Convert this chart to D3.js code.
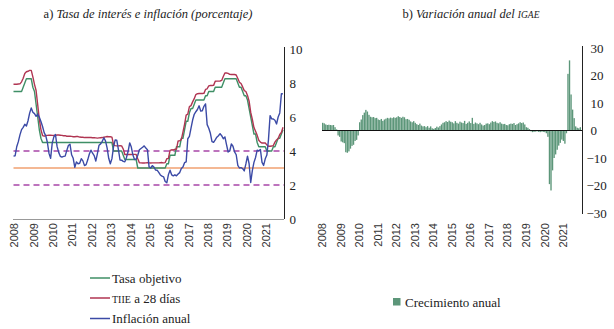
<!DOCTYPE html>
<html>
<head>
<meta charset="utf-8">
<script src="https://cdn.jsdelivr.net/npm/d3@7"></script>
<style>
  html, body { margin: 0; padding: 0; background: #fff; }
  svg { display: block; }
</style>
</head>
<body>
<svg id="chart" width="614" height="329"></svg>
<script>
// ---------------- DATA ----------------
const years = [2008, 2009, 2010, 2011, 2012, 2013, 2014, 2015, 2016, 2017, 2018, 2019, 2020, 2021];

// Monthly, Jan 2008 - Dec 2021
const tasaObjetivo = [
  7.5,7.5,7.5,7.5,7.5,7.5,7.75,8.0,8.25,8.25,8.25,8.25,
  7.75,7.5,6.75,6.0,5.25,4.75,4.5,4.5,4.5,4.5,4.5,4.5,
  4.5,4.5,4.5,4.5,4.5,4.5,4.5,4.5,4.5,4.5,4.5,4.5,
  4.5,4.5,4.5,4.5,4.5,4.5,4.5,4.5,4.5,4.5,4.5,4.5,
  4.5,4.5,4.5,4.5,4.5,4.5,4.5,4.5,4.5,4.5,4.5,4.5,
  4.5,4.5,4.0,4.0,4.0,4.0,4.0,4.0,3.75,3.5,3.5,3.5,
  3.5,3.5,3.5,3.5,3.5,3.0,3.0,3.0,3.0,3.0,3.0,3.0,
  3.0,3.0,3.0,3.0,3.0,3.0,3.0,3.0,3.0,3.0,3.0,3.25,
  3.25,3.75,3.75,3.75,3.75,4.25,4.25,4.25,4.75,4.75,5.25,5.75,
  5.75,6.25,6.5,6.5,6.75,7.0,7.0,7.0,7.0,7.0,7.0,7.25,
  7.25,7.5,7.5,7.5,7.5,7.75,7.75,7.75,7.75,7.75,8.0,8.25,
  8.25,8.25,8.25,8.25,8.25,8.25,8.25,8.0,7.75,7.75,7.5,7.25,
  7.25,7.0,6.5,6.0,5.5,5.0,5.0,4.5,4.25,4.25,4.25,4.25,
  4.25,4.0,4.0,4.0,4.0,4.25,4.25,4.5,4.75,4.75,5.0,5.25
];

const tiie28 = [
  7.93,7.93,7.93,7.94,7.95,8.07,8.28,8.56,8.66,8.69,8.74,8.74,
  8.36,7.92,7.56,6.71,5.87,5.26,4.91,4.87,4.91,4.92,4.93,4.93,
  4.92,4.91,4.92,4.94,4.94,4.93,4.92,4.90,4.90,4.87,4.87,4.87,
  4.86,4.84,4.84,4.85,4.85,4.82,4.81,4.81,4.79,4.79,4.80,4.79,
  4.79,4.78,4.78,4.77,4.76,4.77,4.78,4.79,4.81,4.83,4.85,4.84,
  4.84,4.82,4.36,4.32,4.30,4.30,4.31,4.30,4.12,3.79,3.79,3.79,
  3.79,3.79,3.80,3.80,3.79,3.54,3.31,3.30,3.29,3.29,3.30,3.32,
  3.30,3.29,3.30,3.30,3.30,3.30,3.30,3.31,3.32,3.30,3.32,3.55,
  3.56,4.04,4.07,4.06,4.10,4.11,4.59,4.60,4.67,5.11,5.57,6.11,
  6.17,6.61,6.67,6.89,7.08,7.32,7.37,7.38,7.38,7.38,7.39,7.62,
  7.66,7.83,7.85,7.85,7.86,8.10,8.11,8.11,8.12,8.15,8.38,8.59,
  8.59,8.57,8.51,8.50,8.51,8.50,8.47,8.26,8.04,7.97,7.77,7.55,
  7.50,7.27,6.93,6.27,5.86,5.38,5.16,4.92,4.63,4.52,4.47,4.48,
  4.47,4.36,4.28,4.28,4.29,4.32,4.52,4.65,4.74,4.97,5.09,5.40
];

const inflacionAnual = [
  3.70,3.72,4.25,4.55,4.95,5.26,5.39,5.57,5.47,5.78,6.23,6.53,
  6.28,6.20,6.04,6.17,5.98,5.74,5.44,5.08,4.89,4.50,3.86,3.57,
  4.46,4.83,4.97,4.27,3.92,3.69,3.64,3.68,3.70,4.02,4.32,4.40,
  3.78,3.57,3.04,3.36,3.25,3.28,3.55,3.42,3.14,3.20,3.48,3.82,
  4.05,3.87,3.73,3.41,3.85,4.34,4.42,4.57,4.77,4.60,4.18,3.57,
  3.25,3.55,4.25,4.65,4.63,4.09,3.47,3.46,3.39,3.36,3.62,3.97,
  4.48,4.23,3.76,3.50,3.51,3.75,4.07,4.15,4.22,4.30,4.17,4.08,
  3.07,3.00,3.14,3.06,2.88,2.87,2.74,2.59,2.52,2.48,2.21,2.13,
  2.61,2.87,2.60,2.54,2.60,2.54,2.65,2.73,2.97,3.06,3.31,3.36,
  4.72,4.86,5.35,5.82,6.16,6.31,6.44,6.66,6.35,6.37,6.63,6.77,
  5.55,5.34,5.04,4.55,4.51,4.65,4.81,4.90,5.02,4.90,4.72,4.83,
  4.37,3.94,4.00,4.41,4.28,3.95,3.78,3.16,3.00,3.02,2.97,2.83,
  3.24,3.70,3.25,2.15,2.84,3.33,3.62,4.05,4.01,4.09,3.33,3.15,
  3.54,3.76,4.67,6.08,5.89,5.88,5.81,5.59,6.00,6.24,7.37,7.36
];

const bandaInferior = 2;
const metaInflacion = 3;
const bandaSuperior = 4;

const crecimientoIGAE = [
  2.8,2.6,2.2,2.0,2.1,2.0,1.9,2.0,1.2,0.4,-1.8,-2.3,
  -4.0,-4.3,-4.6,-7.9,-8.1,-7.6,-6.6,-5.6,-5.2,-3.8,-3.4,-1.8,
  3.0,4.0,5.6,6.5,7.5,6.9,5.7,5.0,4.8,4.9,4.5,4.6,
  4.0,3.8,4.2,3.5,4.0,4.3,4.6,4.4,4.7,4.5,4.8,4.6,
  4.8,5.2,4.9,4.6,5.0,4.8,4.1,4.2,3.9,3.3,3.0,3.4,
  2.8,2.3,2.0,2.5,1.8,1.5,1.6,1.2,1.6,1.0,1.5,0.8,
  0.6,0.9,1.4,1.1,1.6,2.2,2.8,3.0,3.4,3.1,3.6,3.2,
  3.0,2.6,3.4,2.8,2.5,3.2,2.9,2.7,3.5,2.4,2.8,3.3,
  2.7,4.6,2.4,2.9,2.6,2.3,2.8,2.2,1.8,2.0,2.5,2.6,
  2.3,2.9,3.4,3.1,3.3,2.8,2.6,3.0,2.5,2.3,2.4,2.0,
  1.9,2.3,2.5,2.4,2.7,2.0,2.3,2.6,3.0,2.7,2.9,2.2,
  1.2,1.0,0.5,-0.3,-0.6,-0.5,-0.4,-0.3,-0.5,-0.6,-0.4,-0.5,
  -0.6,-1.0,-2.3,-19.5,-21.8,-14.5,-10.0,-8.7,-7.0,-5.5,-4.5,-3.3,
  -3.8,-4.8,-1.0,20.6,25.5,13.1,7.6,4.5,1.5,1.0,0.8,1.2
];

const ticksIzq = [0, 2, 4, 6, 8, 10];
const ticksDer = [-30, -20, -10, 0, 10, 20, 30];

// ---------------- STYLE ----------------
const cVerde = "#3f8f66";
const cRojo = "#b03552";
const cAzul = "#3b4aa6";
const cMorado = "#a845a8";
const cNaranja = "#f0a070";
const cBarra = "#5c9679";
const serif = "'Liberation Serif', 'DejaVu Serif', serif";
const sans = "'Liberation Sans', Arial, sans-serif";

const svg = d3.select("#chart");
const n = tasaObjetivo.length;

// ---------------- PANEL A ----------------
const xA = d3.scaleLinear().domain([0, n - 1]).range([13.5, 283]);
const yA = d3.scaleLinear().domain([0, 10]).range([219, 49]);
const gA = svg.append("g");

gA.append("text")
  .attr("x", 148).attr("y", 18)
  .attr("text-anchor", "middle")
  .style("font-family", serif).style("font-size", "12.5px").attr("fill", "#222")
  .call(t => {
    t.append("tspan").text("a) ");
    t.append("tspan").style("font-style", "italic").text("Tasa de interés e inflación (porcentaje)");
  });

// reference lines
[[bandaSuperior, cMorado, "6,4"], [bandaInferior, cMorado, "6,4"], [metaInflacion, cNaranja, null]].forEach(([v, c, d]) => {
  gA.append("line")
    .attr("x1", xA(0)).attr("x2", 284)
    .attr("y1", yA(v)).attr("y2", yA(v))
    .attr("stroke", c).attr("stroke-width", d ? 1.6 : 1.3)
    .attr("stroke-dasharray", d);
});

const lineA = d3.line().x((d, i) => xA(i)).y(d => yA(d));
[[tasaObjetivo, cVerde], [tiie28, cRojo], [inflacionAnual, cAzul]].forEach(([arr, c]) => {
  gA.append("path").datum(arr)
    .attr("d", lineA).attr("fill", "none")
    .attr("stroke", c).attr("stroke-width", 1.4).attr("stroke-linejoin", "round");
});

// bottom axis line
gA.append("line").attr("x1", 13).attr("x2", 284).attr("y1", 219.5).attr("y2", 219.5)
  .attr("stroke", "#999").attr("stroke-width", 1);

// right y-axis
const axA = d3.axisRight(yA).tickValues(ticksIzq).tickSize(0).tickPadding(5);
const gAx = gA.append("g").attr("transform", "translate(284.5,0)").call(axA);
gAx.select(".domain").attr("d", `M0,${yA(10) - 2}V${yA(0)}`).attr("stroke", "#222");
gAx.selectAll("text").style("font-family", serif).style("font-size", "13px").attr("fill", "#222");

// year labels
gA.selectAll("text.yr").data(years).enter().append("text")
  .attr("class", "yr")
  .attr("transform", (d, i) => `translate(${xA(i * 12) + 1},223) rotate(-90)`)
  .attr("text-anchor", "end").attr("dy", "0.35em")
  .style("font-family", sans).style("font-size", "11px").attr("fill", "#333")
  .text(d => d);

// legend A
const legA = [["Tasa objetivo", cVerde, false], ["TIIE a 28 días", cRojo, true], ["Inflación anual", cAzul, false]];
const legY = [278, 298, 318.5];
legA.forEach(([lab, c, sc], i) => {
  gA.append("line").attr("x1", 90).attr("x2", 110).attr("y1", legY[i]).attr("y2", legY[i])
    .attr("stroke", c).attr("stroke-width", 1.5);
  const t = gA.append("text").attr("x", 112).attr("y", legY[i] + 4.5)
    .style("font-family", serif).style("font-size", "13px").attr("fill", "#222");
  if (sc) {
    t.append("tspan").style("font-size", "10px").text("TIIE");
    t.append("tspan").text(" a 28 días");
  } else {
    t.text(lab);
  }
});

// ---------------- PANEL B ----------------
const xB = d3.scaleBand().domain(d3.range(n)).range([322, 581]).paddingInner(0.12);
const yB = d3.scaleLinear().domain([-30, 30]).range([213, 48]);
const gB = svg.append("g");

gB.append("text")
  .attr("x", 471).attr("y", 18)
  .attr("text-anchor", "middle")
  .style("font-family", serif).style("font-size", "12.5px").attr("fill", "#222")
  .call(t => {
    t.append("tspan").text("b) ");
    t.append("tspan").style("font-style", "italic").text("Variación anual del ");
    t.append("tspan").style("font-style", "italic").style("font-size", "9.5px").text("IGAE");
  });

gB.selectAll("rect.bar").data(crecimientoIGAE).enter().append("rect")
  .attr("class", "bar")
  .attr("x", (d, i) => xB(i))
  .attr("width", xB.bandwidth())
  .attr("y", d => yB(Math.max(0, d)))
  .attr("height", d => Math.abs(yB(d) - yB(0)))
  .attr("fill", cBarra);

gB.append("line").attr("x1", 322).attr("x2", 582).attr("y1", yB(0)).attr("y2", yB(0))
  .attr("stroke", "#111").attr("stroke-width", 1.2);

const axB = d3.axisRight(yB).tickValues(ticksDer).tickSize(0).tickPadding(6)
  .tickFormat(d => d < 0 ? "\u2212" + Math.abs(d) : d);
const gBx = gB.append("g").attr("transform", "translate(582.5,0)").call(axB);
gBx.select(".domain").attr("d", `M0,${yB(30) - 2}V${yB(-30) + 1}`).attr("stroke", "#222");
gBx.selectAll("text").style("font-family", serif).style("font-size", "13px").attr("fill", "#222")
  .attr("x", d => d < 0 ? 4 : 8);

gB.selectAll("text.yr").data(years).enter().append("text")
  .attr("class", "yr")
  .attr("transform", (d, i) => `translate(${xB(i * 12) + 0.5},223) rotate(-90)`)
  .attr("text-anchor", "end").attr("dy", "0.35em")
  .style("font-family", sans).style("font-size", "11px").attr("fill", "#333")
  .text(d => d);

// legend B
gB.append("rect").attr("x", 393).attr("y", 298).attr("width", 7.5).attr("height", 7.5).attr("fill", cBarra);
gB.append("text").attr("x", 405).attr("y", 306.5)
  .style("font-family", serif).style("font-size", "13px").attr("fill", "#222")
  .text("Crecimiento anual");
</script>
</body>
</html>
